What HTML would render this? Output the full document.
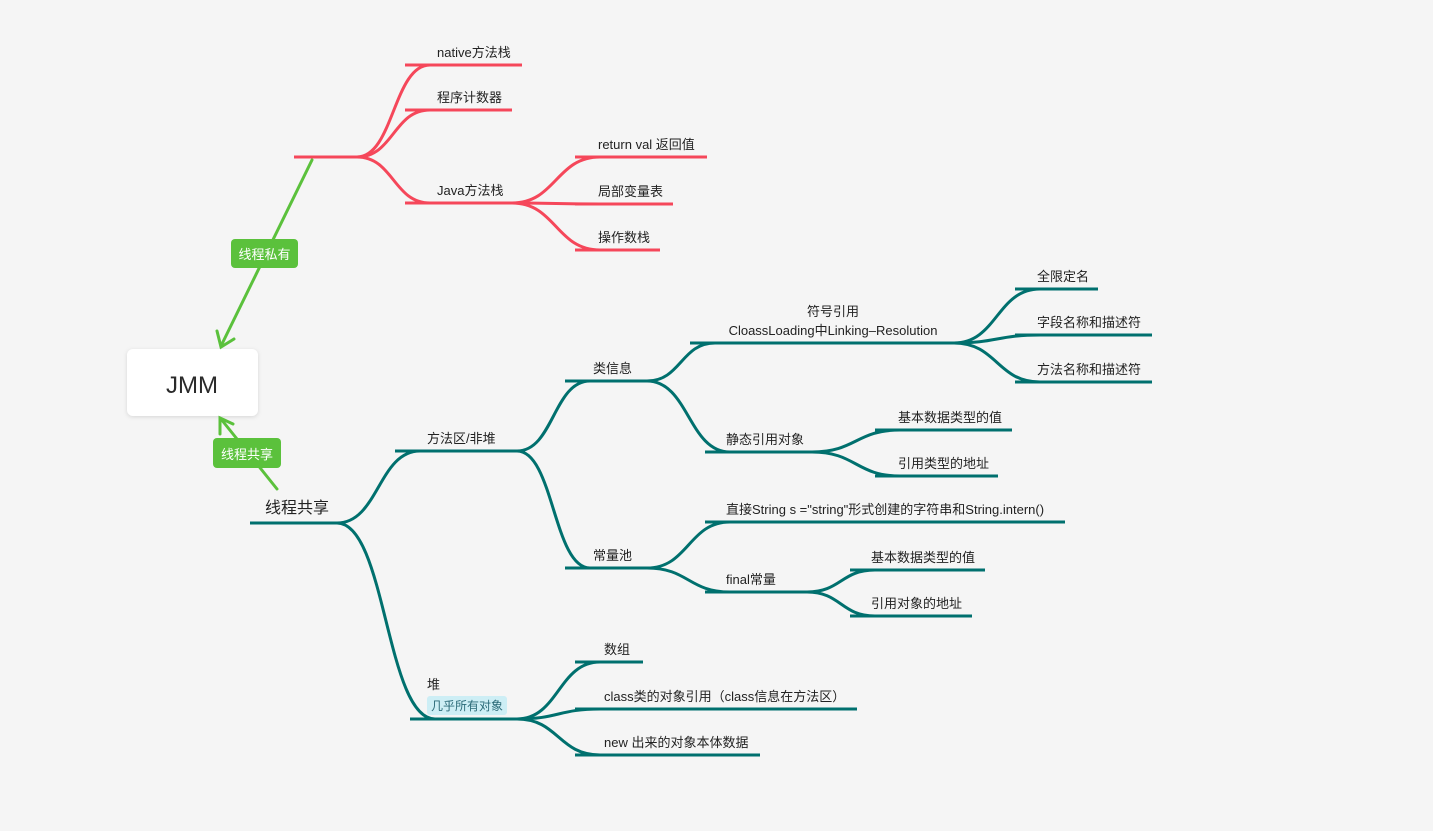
<!DOCTYPE html>
<html><head><meta charset="utf-8">
<style>
html,body{margin:0;padding:0;background:#f5f5f5;}
svg{display:block;font-family:"Liberation Sans","Noto Sans CJK SC",sans-serif;}
</style></head>
<body>
<svg id="m" width="1433" height="831" viewBox="0 0 1433 831">
<g id="links"></g>
<g id="nodes"></g>
<g>
<rect x="127" y="349" width="131" height="67" rx="6" fill="#fff" style="filter:drop-shadow(0 1px 2px rgba(0,0,0,0.12))"/>
<text x="192" y="393" font-size="24" text-anchor="middle" fill="#2a2a2a">JMM</text>
</g>
<g stroke="#5bc13c" stroke-width="3" fill="none" stroke-linecap="round">
<line x1="312" y1="160" x2="221" y2="346"/>
<polyline points="217,331 221,347 234,339"/>
</g>
<g>
<rect x="231" y="239" width="67" height="29" rx="4" fill="#5bc13c"/>
<text x="264.5" y="259" font-size="13" fill="#fff" text-anchor="middle">线程私有</text>
</g>
<g stroke="#5bc13c" stroke-width="3" fill="none" stroke-linecap="round">
<line x1="277" y1="489" x2="221" y2="419"/>
<polyline points="220,434 220,418 233,424"/>
</g>
<g>
<rect x="213" y="438" width="68" height="30" rx="4" fill="#5bc13c"/>
<text x="247" y="459" font-size="13" fill="#fff" text-anchor="middle">线程共享</text>
</g>
</svg>
<script>
const R="#f5475a", T="#00706e";
const nodes=[
 ["pr",null,[""],294,365,157,0,R],
 ["n1","pr",["native方法栈"],405,522,65,437,R],
 ["n2","pr",["程序计数器"],405,512,110,437,R],
 ["n3","pr",["Java方法栈"],405,520,203,437,R],
 ["n4","n3",["return val 返回值"],575,707,157,598,R],
 ["n5","n3",["局部变量表"],575,673,204,598,R],
 ["n6","n3",["操作数栈"],575,660,250,598,R],
 ["sh",null,["线程共享"],250,345,523,265,T],
 ["a","sh",["方法区/非堆"],395,525,451,427,T],
 ["h","sh",["堆"],410,525,719,427,T],
 ["c","a",["类信息"],565,655,381,593,T],
 ["p","a",["常量池"],565,655,568,593,T],
 ["s","c",["符号引用","CloassLoading中Linking–Resolution"],690,962,343,833,T],
 ["st","c",["静态引用对象"],705,820,452,726,T],
 ["s1","s",["全限定名"],1015,1098,289,1037,T],
 ["s2","s",["字段名称和描述符"],1015,1152,335,1037,T],
 ["s3","s",["方法名称和描述符"],1015,1152,382,1037,T],
 ["t1","st",["基本数据类型的值"],875,1012,430,898,T],
 ["t2","st",["引用类型的地址"],875,998,476,898,T],
 ["p1","p",["直接String s =\"string\"形式创建的字符串和String.intern()"],705,1065,522,726,T],
 ["p2","p",["final常量"],705,815,592,726,T],
 ["f1","p2",["基本数据类型的值"],850,985,570,871,T],
 ["f2","p2",["引用对象的地址"],850,972,616,871,T],
 ["h1","h",["数组"],575,643,662,604,T],
 ["h2","h",["class类的对象引用（class信息在方法区）"],575,857,709,604,T],
 ["h3","h",["new 出来的对象本体数据"],575,760,755,604,T]
];
const NS="http://www.w3.org/2000/svg";
const L=document.getElementById('links'), N=document.getElementById('nodes');
const byId={};nodes.forEach(n=>byId[n[0]]=n);
nodes.forEach(n=>{
 const [id,par,lines,x1,x2,y,tx,col]=n;
 const g=document.createElementNS(NS,'g');
 
 
 const ln=document.createElementNS(NS,'line');
 ln.setAttribute('x1',x1);ln.setAttribute('x2',x2);ln.setAttribute('y1',y);ln.setAttribute('y2',y);
 ln.setAttribute('stroke',col);ln.setAttribute('stroke-width',3);
 g.appendChild(ln);
 const big=id==="sh";
 const heap=id==="h";
 lines.forEach((t,i)=>{
  if(!t)return;
  const te=document.createElementNS(NS,'text');
  te.setAttribute('x',tx);
  te.setAttribute('y',heap?689:(y-8-(lines.length-1-i)*19-(big?2:0)));
  te.setAttribute('font-size',big?16:13);
  te.setAttribute('fill','#222');
  if(id==="s")te.setAttribute('text-anchor','middle');
  te.textContent=t;g.appendChild(te);
 });
 if(heap){
  const r=document.createElementNS(NS,'rect');
  r.setAttribute('x',427);r.setAttribute('y',696);r.setAttribute('width',80);r.setAttribute('height',19);r.setAttribute('rx',3);r.setAttribute('fill','#cdeef5');
  
  g.appendChild(r);
  const te=document.createElementNS(NS,'text');
  te.setAttribute('x',431);te.setAttribute('y',710);te.setAttribute('font-size',12);te.setAttribute('fill','#2b6a78');
  te.textContent='几乎所有对象';g.appendChild(te);
 }
 N.appendChild(g);
 if(par){
  const p=byId[par];
  const sx=p[4]-8, sy=p[5], ex=x1+25, ey=y;
  const d=(ex-sx)*0.5;
  const path=document.createElementNS(NS,'path');
  path.setAttribute('d',`M${sx},${sy} C${sx+d},${sy} ${ex-d},${ey} ${ex},${ey}`);
  path.setAttribute('fill','none');path.setAttribute('stroke',col);path.setAttribute('stroke-width',3);
  
  L.appendChild(path);
 }
});
</script>
</body></html>
